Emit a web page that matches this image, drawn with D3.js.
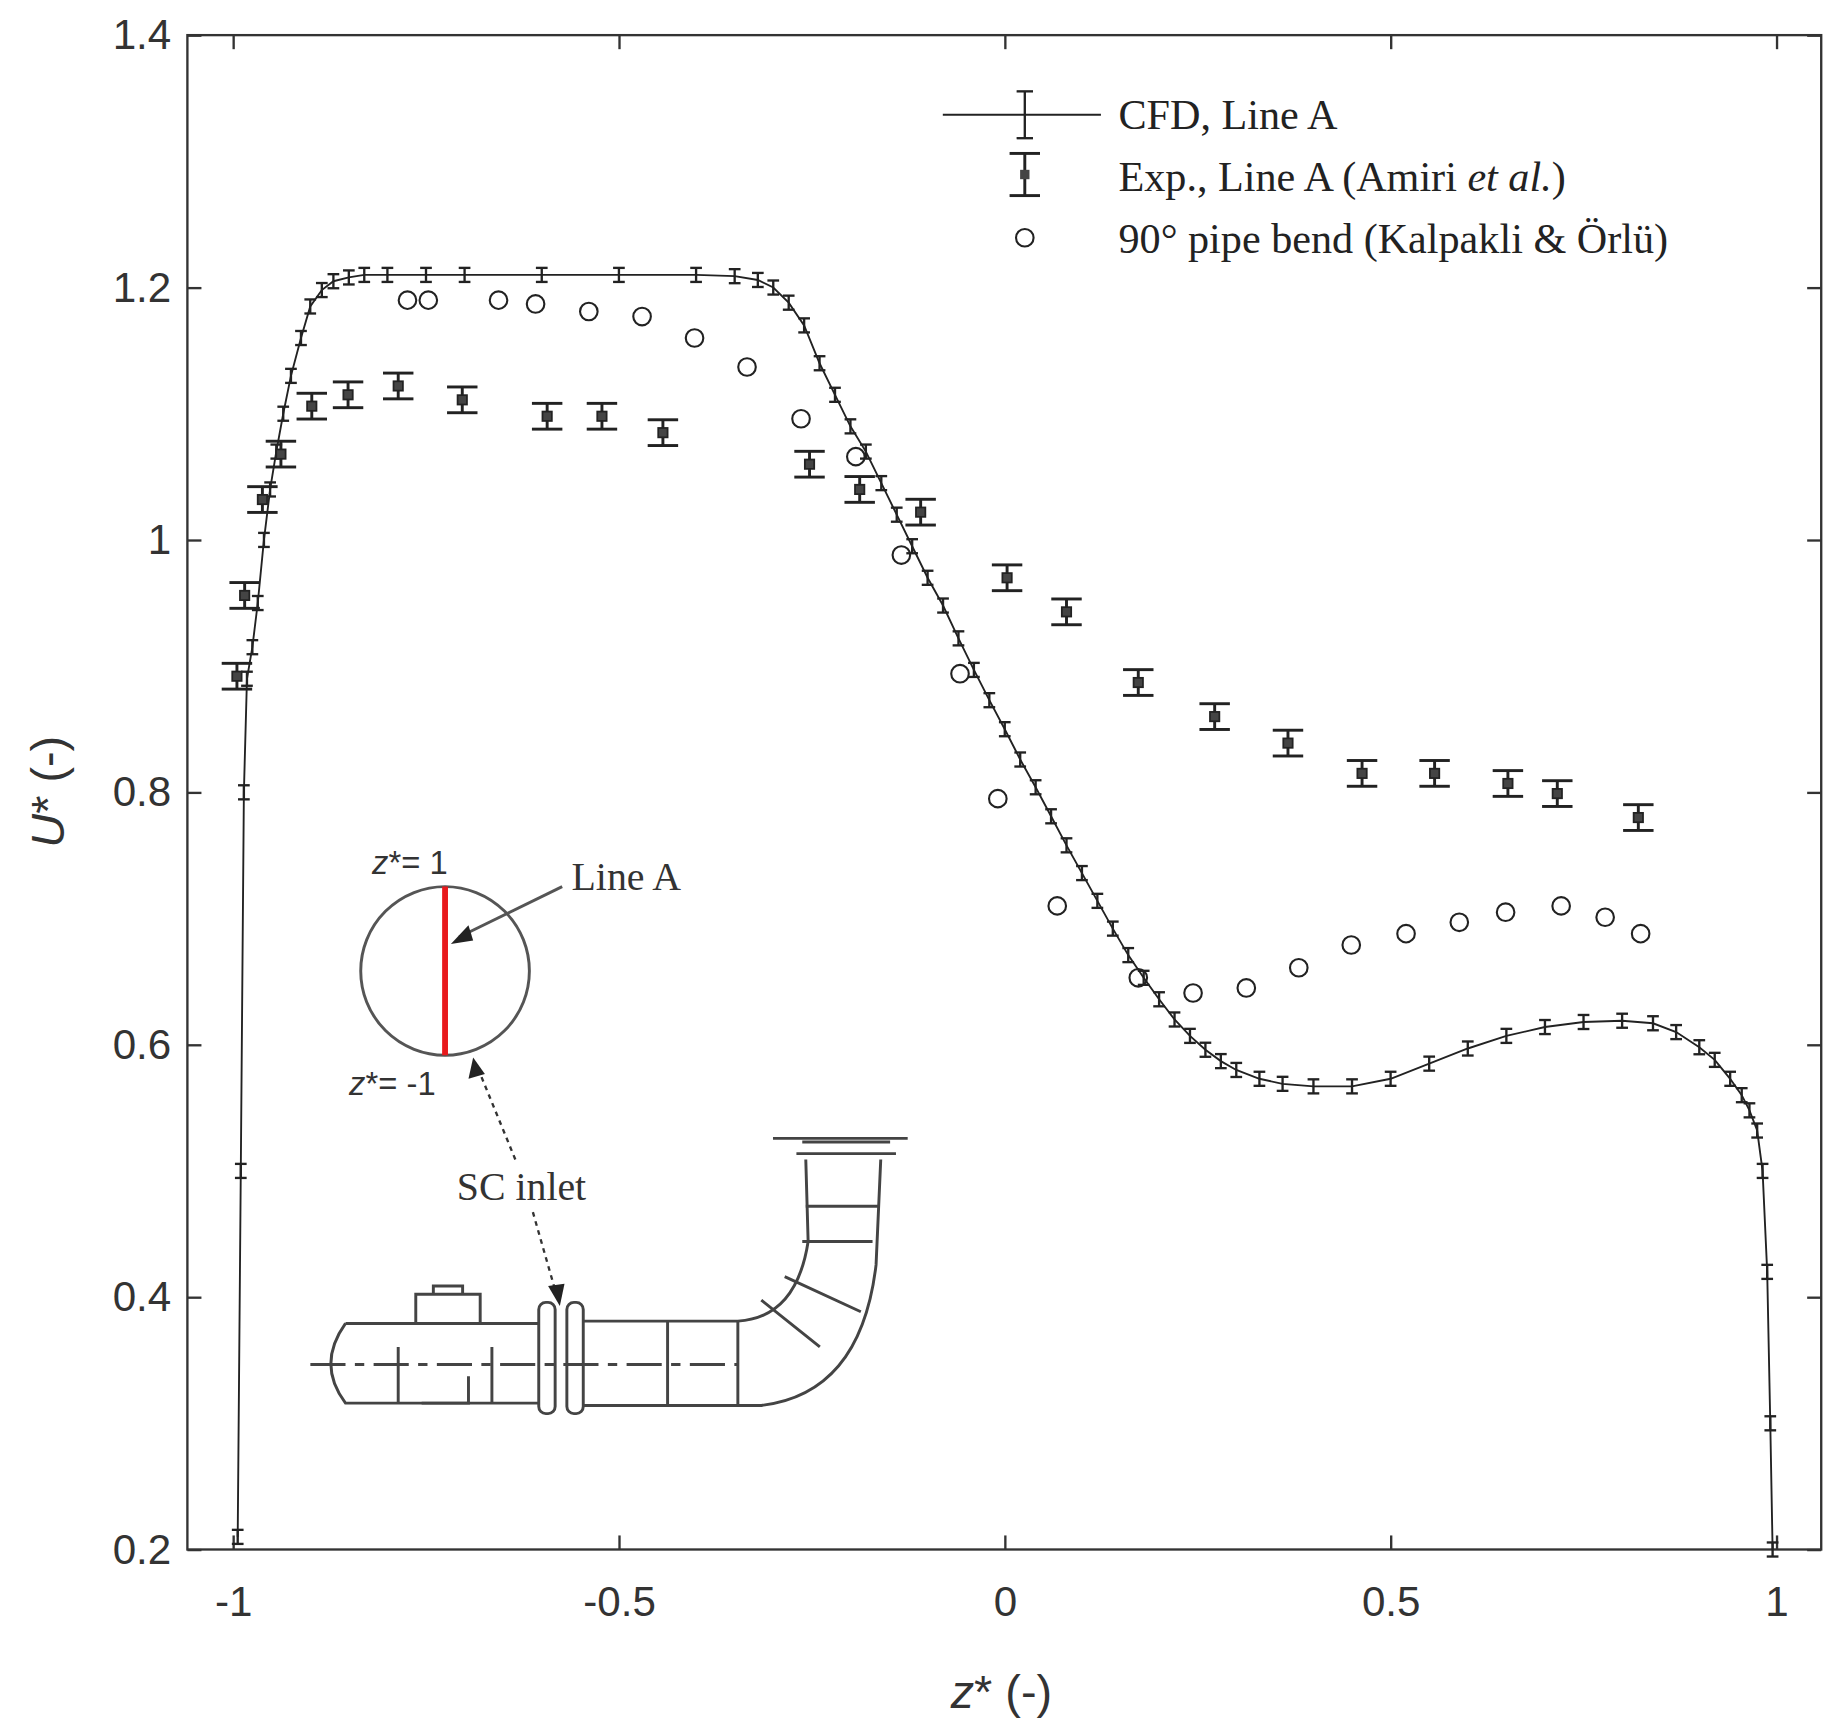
<!DOCTYPE html><html><head><meta charset="utf-8">
<script src="https://cdn.jsdelivr.net/npm/d3@7"></script>
<style>body{margin:0;background:#fff}</style></head><body><svg id="c" width="1827" height="1728"></svg>
<script>
const xTicks=[-1,-0.5,0,0.5,1], yTicks=[0.2,0.4,0.6,0.8,1,1.2,1.4];
const cfdX=[-0.994,-0.99,-0.986,-0.982,-0.975,-0.968,-0.96,-0.952,-0.944,-0.935,-0.925,-0.912,-0.9,-0.885,-0.87,-0.85,-0.83,-0.8,-0.75,-0.7,-0.6,-0.5,-0.4,-0.35,-0.32,-0.3,-0.28,-0.26,-0.24,-0.22,-0.2,-0.18,-0.16,-0.14,-0.12,-0.1,-0.08,-0.06,-0.04,-0.02,0,0.02,0.04,0.06,0.08,0.1,0.12,0.14,0.16,0.18,0.2,0.22,0.24,0.26,0.28,0.3,0.33,0.36,0.4,0.45,0.5,0.55,0.6,0.65,0.7,0.75,0.8,0.84,0.87,0.9,0.92,0.94,0.955,0.965,0.975,0.982,0.988,0.992,0.995];
const cfdY=[0.21,0.5,0.8,0.89,0.915,0.95,1.0,1.04,1.07,1.1,1.13,1.16,1.185,1.198,1.205,1.208,1.21,1.21,1.21,1.21,1.21,1.21,1.21,1.209,1.206,1.2,1.188,1.17,1.14,1.115,1.09,1.07,1.045,1.02,0.995,0.97,0.948,0.922,0.897,0.873,0.85,0.826,0.804,0.781,0.758,0.736,0.714,0.692,0.671,0.653,0.636,0.62,0.607,0.596,0.587,0.58,0.573,0.569,0.567,0.567,0.573,0.585,0.597,0.607,0.614,0.618,0.619,0.617,0.61,0.598,0.588,0.573,0.56,0.548,0.532,0.5,0.42,0.3,0.2];
const expX=[-0.995,-0.985,-0.962,-0.938,-0.898,-0.851,-0.786,-0.703,-0.593,-0.522,-0.443,-0.253,-0.188,-0.109,0.003,0.08,0.173,0.272,0.367,0.463,0.557,0.652,0.716,0.821];
const expY=[0.892,0.956,1.032,1.068,1.106,1.115,1.122,1.111,1.098,1.098,1.085,1.06,1.04,1.022,0.970,0.943,0.887,0.86,0.839,0.815,0.815,0.807,0.799,0.78];
const bendX=[-0.774,-0.747,-0.656,-0.608,-0.539,-0.47,-0.402,-0.334,-0.264,-0.193,-0.134,-0.058,-0.009,0.068,0.173,0.244,0.313,0.381,0.449,0.52,0.589,0.649,0.721,0.778,0.824];
const bendY=[1.19,1.19,1.19,1.187,1.181,1.177,1.16,1.137,1.096,1.066,0.988,0.894,0.795,0.71,0.653,0.641,0.645,0.661,0.679,0.688,0.697,0.705,0.71,0.701,0.688];
const legendLabels=["CFD, Line A","Exp., Line A (Amiri ","90° pipe bend (Kalpakli & Örlü)"];

const svg=d3.select("#c").append("g").attr("transform","scale(1.1712)");
const x=d3.scaleLinear().domain([-1.0592,1.058]).range([160,1555]);
const y=d3.scaleLinear().domain([0.2,1.4]).range([1323,30]);
const tf="'Liberation Sans',Arial,sans-serif", sf="'Liberation Serif','Times New Roman',serif";
svg.append("rect").attr("x",160).attr("y",30).attr("width",1395).attr("height",1293).attr("fill","none").attr("stroke","#333").attr("stroke-width",2);
const xa=svg.append("g").attr("transform","translate(0,1323)").call(d3.axisBottom(x).tickValues(xTicks).tickSize(-12).tickFormat(d=>String(d)));
const xt=svg.append("g").attr("transform","translate(0,30)").call(d3.axisTop(x).tickValues(xTicks).tickSize(-12).tickFormat(""));
const ya=svg.append("g").attr("transform","translate(160,0)").call(d3.axisLeft(y).tickValues(yTicks).tickSize(-12).tickFormat(d=>String(d)));
const yr=svg.append("g").attr("transform","translate(1555,0)").call(d3.axisRight(y).tickValues(yTicks).tickSize(-12).tickFormat(""));
[xa,xt,ya,yr].forEach(g=>{g.select(".domain").remove();g.selectAll("line").attr("stroke","#333").attr("stroke-width",2);
 g.selectAll("text").attr("font-family",tf).attr("font-size",36).attr("fill","#333");});
xa.selectAll("text").attr("dy","1.5em");
ya.selectAll("text").attr("dx","-0.3em");
svg.append("text").attr("x",855).attr("y",1458).attr("text-anchor","middle").attr("font-family",tf).attr("font-size",40).attr("fill","#333")
 .html("<tspan font-style='italic'>z</tspan>* (-)");
svg.append("text").attr("transform","translate(55,676) rotate(-90)").attr("text-anchor","middle").attr("font-family",tf).attr("font-size",40).attr("fill","#333")
 .html("<tspan font-style='italic'>U</tspan>* (-)");

const line=d3.line().x((d,i)=>x(cfdX[i])).y((d,i)=>y(cfdY[i]));
svg.append("path").datum(cfdY).attr("d",line).attr("fill","none").attr("stroke","#222").attr("stroke-width",1.6);
const cg=svg.append("g").attr("stroke","#222").attr("stroke-width",2);
cfdX.forEach((v,i)=>{const px=x(v),py=y(cfdY[i]);
 cg.append("line").attr("x1",px).attr("x2",px).attr("y1",py-6).attr("y2",py+6);
 cg.append("line").attr("x1",px-5).attr("x2",px+5).attr("y1",py-6).attr("y2",py-6);
 cg.append("line").attr("x1",px-5).attr("x2",px+5).attr("y1",py+6).attr("y2",py+6);});
const eg=svg.append("g").attr("stroke","#222").attr("stroke-width",2.5);
expX.forEach((v,i)=>{const px=x(v),py=y(expY[i]);
 eg.append("line").attr("x1",px).attr("x2",px).attr("y1",py-11).attr("y2",py+11);
 eg.append("line").attr("x1",px-13).attr("x2",px+13).attr("y1",py-11).attr("y2",py-11);
 eg.append("line").attr("x1",px-13).attr("x2",px+13).attr("y1",py+11).attr("y2",py+11);
 eg.append("rect").attr("x",px-4).attr("y",py-4).attr("width",8).attr("height",8).attr("fill","#444").attr("stroke","#222").attr("stroke-width",1.5);});
svg.append("g").selectAll("circle").data(bendX).join("circle").attr("cx",d=>x(d)).attr("cy",(d,i)=>y(bendY[i])).attr("r",7.5)
 .attr("fill","none").attr("stroke","#222").attr("stroke-width",1.8);

const L=svg.append("g").attr("font-family",sf).attr("font-size",36).attr("fill","#222");
L.append("line").attr("x1",805).attr("x2",940).attr("y1",98).attr("y2",98).attr("stroke","#222").attr("stroke-width",1.6);
[[875,78,118,7]].forEach(([px,a,b,w])=>{L.append("line").attr("x1",px).attr("x2",px).attr("y1",a).attr("y2",b).attr("stroke","#222").attr("stroke-width",2);
 L.append("line").attr("x1",px-w).attr("x2",px+w).attr("y1",a).attr("y2",a).attr("stroke","#222").attr("stroke-width",2);
 L.append("line").attr("x1",px-w).attr("x2",px+w).attr("y1",b).attr("y2",b).attr("stroke","#222").attr("stroke-width",2);});
L.append("line").attr("x1",875).attr("x2",875).attr("y1",131).attr("y2",167).attr("stroke","#222").attr("stroke-width",2.5);
L.append("line").attr("x1",862).attr("x2",888).attr("y1",131).attr("y2",131).attr("stroke","#222").attr("stroke-width",2.5);
L.append("line").attr("x1",862).attr("x2",888).attr("y1",167).attr("y2",167).attr("stroke","#222").attr("stroke-width",2.5);
L.append("rect").attr("x",871).attr("y",145).attr("width",8).attr("height",8).attr("fill","#444");
L.append("circle").attr("cx",875).attr("cy",203).attr("r",7.5).attr("fill","none").attr("stroke","#222").attr("stroke-width",1.8);
L.append("text").attr("x",955).attr("y",110).text(legendLabels[0]);
L.append("text").attr("x",955).attr("y",163).html(legendLabels[1]+"<tspan font-style='italic'>et al.</tspan>)");
L.append("text").attr("x",955).attr("y",216).text(legendLabels[2]);

const I=svg.append("g").attr("font-family",sf).attr("font-size",34).attr("fill","#333");
I.append("circle").attr("cx",380).attr("cy",829).attr("r",72).attr("fill","none").attr("stroke","#555").attr("stroke-width",2.5);
I.append("line").attr("x1",380).attr("x2",380).attr("y1",757).attr("y2",901).attr("stroke","#e8191c").attr("stroke-width",5);
I.append("text").attr("x",350).attr("y",746).attr("text-anchor","middle").attr("font-family",tf).attr("font-size",28).html("<tspan font-style='italic'>z</tspan>*= 1");
I.append("text").attr("x",335).attr("y",935).attr("text-anchor","middle").attr("font-family",tf).attr("font-size",28).html("<tspan font-style='italic'>z</tspan>*= -1");
I.append("text").attr("x",488).attr("y",760).text("Line A");
I.append("line").attr("x1",480).attr("y1",757).attr("x2",392).attr("y2",800).attr("stroke","#555").attr("stroke-width",2.5);
I.append("path").attr("d","M385,806 L400,790 L404,803 Z").attr("fill","#222");
I.append("text").attr("x",390).attr("y",1025).text("SC inlet");
I.append("line").attr("x1",440).attr("y1",990).attr("x2",408).attr("y2",912).attr("stroke","#333").attr("stroke-width",2).attr("stroke-dasharray","4,4");
I.append("path").attr("d","M404,903 L400,921 L414,917 Z").attr("fill","#222");
I.append("line").attr("x1",455).attr("y1",1035).attr("x2",475).attr("y2",1105).attr("stroke","#333").attr("stroke-width",2).attr("stroke-dasharray","4,4");
I.append("path").attr("d","M478,1115 L468,1098 L482,1096 Z").attr("fill","#222");
const P=svg.append("g").attr("fill","none").attr("stroke","#444").attr("stroke-width",2.5);
P.append("path").attr("d","M295,1130 Q270,1165 295,1198 L460,1198 M295,1130 L460,1130");
P.append("path").attr("d","M265,1165 L630,1165").attr("stroke-dasharray","30,8,8,8");
P.append("rect").attr("x",460).attr("y",1112).attr("width",14).attr("height",95).attr("rx",6);
P.append("rect").attr("x",484).attr("y",1112).attr("width",14).attr("height",95).attr("rx",6);
P.append("path").attr("d","M498,1128 L630,1128 Q680,1125 690,1060 L688,990 M498,1200 L650,1200 Q735,1190 748,1080 L752,990");
P.append("path").attr("d","M570,1128 L570,1200 M630,1128 L630,1200 M650,1110 L700,1150 M670,1090 L735,1120 M685,1060 L745,1060 M688,1030 L750,1030");
P.append("path").attr("d","M680,985 L765,985 M685,975 L760,975 M660,972 L775,972");
P.append("path").attr("d","M355,1130 L355,1105 L410,1105 L410,1130 M370,1105 L370,1098 L395,1098 L395,1105 M340,1198 L340,1150 M420,1198 L420,1150 M360,1198 L400,1198 L400,1175");
</script></body></html>
